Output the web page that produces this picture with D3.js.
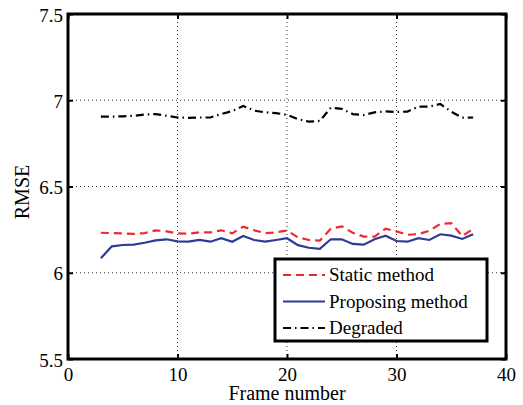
<!DOCTYPE html>
<html>
<head>
<meta charset="utf-8">
<script src="https://cdn.jsdelivr.net/npm/d3@7"></script>
<style>
    body { margin: 0; background: #fff; }
</style>
</head>
<body>
<div id="chart"></div>
<script>
// frame numbers 3..37
var frames = [3, 4, 5, 6, 7, 8, 9, 10, 11, 12, 13, 14, 15, 16, 17, 18, 19, 20,
    21, 22, 23, 24, 25, 26, 27, 28, 29, 30, 31, 32, 33, 34, 35, 36, 37];

var staticMethod = [6.232, 6.23, 6.228, 6.225, 6.23, 6.246, 6.24, 6.228, 6.226, 6.234,
    6.234, 6.246, 6.228, 6.267, 6.246, 6.23, 6.234, 6.245,
    6.205, 6.19, 6.186, 6.255, 6.269, 6.232, 6.21, 6.21, 6.255, 6.24, 6.22, 6.224,
    6.244, 6.283, 6.288, 6.213, 6.254];

var proposingMethod = [6.084, 6.153, 6.161, 6.163, 6.174, 6.188, 6.194, 6.182, 6.18, 6.19,
    6.18, 6.2, 6.18, 6.213, 6.19, 6.18, 6.19, 6.2,
    6.16, 6.145, 6.138, 6.194, 6.194, 6.167, 6.163, 6.194, 6.215, 6.184, 6.18, 6.2,
    6.19, 6.223, 6.215, 6.196, 6.223];

var degraded = [6.905, 6.905, 6.907, 6.91, 6.917, 6.92, 6.91, 6.9, 6.898, 6.9,
    6.9, 6.92, 6.937, 6.967, 6.94, 6.93, 6.925, 6.916,
    6.891, 6.876, 6.88, 6.957, 6.95, 6.92, 6.914, 6.93, 6.935, 6.932, 6.934, 6.963,
    6.963, 6.978, 6.934, 6.899, 6.9];

var xTicks = [0, 10, 20, 30, 40];
var yTicks = [5.5, 6, 6.5, 7, 7.5];

var series = [
    { name: 'Static method', values: staticMethod, colour: '#ee2a2e', dash: '8,5' },
    { name: 'Proposing method', values: proposingMethod, colour: '#2e3a96', dash: null },
    { name: 'Degraded', values: degraded, colour: '#000', dash: '8,4,1.5,4' }
];

var serif = "'Liberation Serif', 'DejaVu Serif', serif";

var width = 523;
var height = 405;

var margin = {
    top: 14,
    bottom: 46,
    left: 68,
    right: 17,
};

var innerW = width - margin.left - margin.right;
var innerH = height - margin.top - margin.bottom;

var svg = d3.select('#chart')
    .append('svg')
    .attr('width', width)
    .attr('height', height)
    .style('font-family', serif);

var g = svg.append('g')
    .attr('transform', 'translate(' + margin.left + ',' + margin.top + ')');

var xScale = d3.scaleLinear()
    .domain([0, 40])
    .range([0, innerW]);

var yScale = d3.scaleLinear()
    .domain([5.5, 7.5])
    .range([innerH, 0]);

// dotted grid
g.selectAll('.xgrid')
    .data(xTicks.slice(1, -1))
    .enter()
    .append('line')
    .attr('x1', function(d) { return xScale(d); })
    .attr('x2', function(d) { return xScale(d); })
    .attr('y1', 0)
    .attr('y2', innerH)
    .attr('stroke', '#333')
    .attr('stroke-width', 1)
    .attr('stroke-dasharray', '1,3');

g.selectAll('.ygrid')
    .data(yTicks.slice(1, -1))
    .enter()
    .append('line')
    .attr('y1', function(d) { return yScale(d); })
    .attr('y2', function(d) { return yScale(d); })
    .attr('x1', 0)
    .attr('x2', innerW)
    .attr('stroke', '#333')
    .attr('stroke-width', 1)
    .attr('stroke-dasharray', '1,3');

// series lines
var line = d3.line()
    .x(function(d) { return xScale(d[0]); })
    .y(function(d) { return yScale(d[1]); });

series.forEach(function(s) {
    g.append('path')
        .datum(frames.map(function(f, i) { return [f, s.values[i]]; }))
        .attr('d', line)
        .attr('fill', 'none')
        .attr('stroke', s.colour)
        .attr('stroke-width', 2.2)
        .attr('stroke-dasharray', s.dash);
});

// axes, ticks pointing inward like matlab
var xAxis = d3.axisBottom(xScale)
    .tickValues(xTicks)
    .tickSizeInner(-5)
    .tickSizeOuter(0)
    .tickPadding(7)
    .tickFormat(d3.format('d'));

var yAxis = d3.axisLeft(yScale)
    .tickValues(yTicks)
    .tickSizeInner(-5)
    .tickSizeOuter(0)
    .tickPadding(5)
    .tickFormat(function(d) { return d % 1 === 0 ? d3.format('d')(d) : d3.format('.1f')(d); });

var xg = g.append('g')
    .attr('transform', 'translate(0,' + innerH + ')')
    .call(xAxis);

var yg = g.append('g')
    .call(yAxis);

g.append('g')
    .call(d3.axisTop(xScale).tickValues(xTicks).tickSizeInner(-5).tickSizeOuter(0).tickFormat(''));

g.append('g')
    .attr('transform', 'translate(' + innerW + ',0)')
    .call(d3.axisRight(yScale).tickValues(yTicks).tickSizeInner(-5).tickSizeOuter(0).tickFormat(''));

g.selectAll('.domain').remove();
g.selectAll('.tick line')
    .attr('stroke', '#000')
    .attr('stroke-width', 2);

xg.selectAll('.tick text')
    .style('font-family', serif)
    .style('font-size', '19px')
    .attr('fill', '#000')
    .attr('dy', '0.8em');

yg.selectAll('.tick text')
    .style('font-family', serif)
    .style('font-size', '19px')
    .attr('fill', '#000')
    .attr('dy', '0.37em');

// the box
g.append('rect')
    .attr('x', 0)
    .attr('y', 0)
    .attr('width', innerW)
    .attr('height', innerH)
    .attr('fill', 'none')
    .attr('stroke', '#000')
    .attr('stroke-width', 3);

// axis labels
svg.append('text')
    .attr('x', margin.left + innerW / 2)
    .attr('y', 400)
    .attr('text-anchor', 'middle')
    .style('font-family', serif)
    .style('font-size', '20px')
    .text('Frame number');

svg.append('text')
    .attr('transform', 'translate(29,192) rotate(-90)')
    .attr('text-anchor', 'middle')
    .style('font-family', serif)
    .style('font-size', '20px')
    .text('RMSE');

// legend
var legend = svg.append('g')
    .attr('class', 'legend')
    .attr('transform', 'translate(275,259)');

legend.append('rect')
    .attr('x', 0)
    .attr('y', 0)
    .attr('width', 212)
    .attr('height', 82)
    .attr('fill', '#fff')
    .attr('stroke', '#000')
    .attr('stroke-width', 3);

series.forEach(function(s, i) {
    var item = legend.append('g')
        .attr('transform', 'translate(0,' + (16 + i * 26.5) + ')');
    item.append('line')
        .attr('x1', 8)
        .attr('x2', 50)
        .attr('y1', 0)
        .attr('y2', 0)
        .attr('stroke', s.colour)
        .attr('stroke-width', 2.2)
        .attr('stroke-dasharray', s.dash);
    item.append('text')
        .attr('x', 54)
        .attr('y', 0)
        .attr('dy', '0.33em')
        .style('font-family', serif)
        .style('font-size', '19px')
        .text(s.name);
});
</script>
</body>
</html>
